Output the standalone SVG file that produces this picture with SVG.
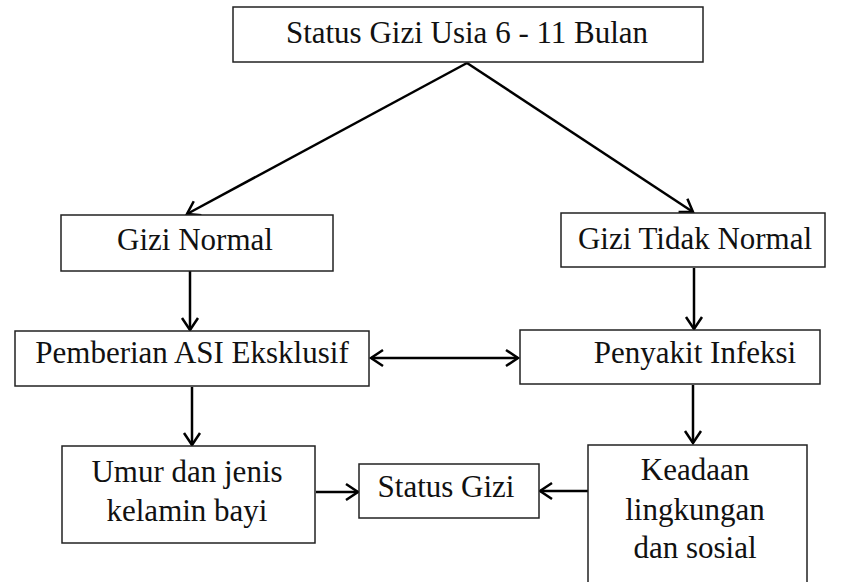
<svg xmlns="http://www.w3.org/2000/svg" width="865" height="582" viewBox="0 0 865 582">
<style>
rect{fill:#fff;stroke:#222;stroke-width:1.5}
text{font-family:"Liberation Serif","Times New Roman",serif;font-size:31px;fill:#111;text-anchor:middle}
.c{fill:none;stroke:#000;stroke-width:2.5}
</style>
<defs>
<marker id="a" markerUnits="userSpaceOnUse" markerWidth="20" markerHeight="20" viewBox="-14 -10 16 20" refX="0" refY="0" orient="auto-start-reverse">
<path d="M-12,-8 L0,0 L-12,8" fill="none" stroke="#000" stroke-width="2.5"/>
</marker>
</defs>
<rect x="0" y="0" width="865" height="582" style="fill:#fff;stroke:none"/>
<g id="connectors">
<path class="c" d="M467,63 L187,214" marker-end="url(#a)"/>
<path class="c" d="M467,63 L693,212" marker-end="url(#a)"/>
<path class="c" d="M190,271 L190,330" marker-end="url(#a)"/>
<path class="c" d="M694,268 L694,329" marker-end="url(#a)"/>
<path class="c" d="M371,358 L518,358" marker-start="url(#a)" marker-end="url(#a)"/>
<path class="c" d="M192,387 L192,445" marker-end="url(#a)"/>
<path class="c" d="M693,385 L693,443" marker-end="url(#a)"/>
<path class="c" d="M316,492 L358,492" marker-end="url(#a)"/>
<path class="c" d="M588,491 L540,491" marker-end="url(#a)"/>
</g>
<g id="n1"><rect x="233" y="7" width="470" height="55"/><text x="467" y="43">Status Gizi Usia 6 - 11 Bulan</text></g>
<g id="n2"><rect x="61" y="215" width="272" height="56"/><text x="195" y="250">Gizi Normal</text></g>
<g id="n3"><rect x="561" y="213" width="264" height="54"/><text x="695" y="249">Gizi Tidak Normal</text></g>
<g id="n4"><rect x="15" y="331" width="354" height="55"/><text x="192" y="363">Pemberian ASI Eksklusif</text></g>
<g id="n5"><rect x="520" y="330" width="300" height="54"/><text x="695" y="363">Penyakit Infeksi</text></g>
<g id="n6"><rect x="62" y="446" width="253" height="97"/><text x="187" y="482">Umur dan jenis</text><text x="187" y="521">kelamin bayi</text></g>
<g id="n7"><rect x="359" y="464" width="180" height="54"/><text x="446" y="497">Status Gizi</text></g>
<g id="n8"><rect x="588" y="445" width="219" height="150"/><text x="695" y="480">Keadaan</text><text x="695" y="520">lingkungan</text><text x="695" y="558">dan sosial</text></g>
</svg>
